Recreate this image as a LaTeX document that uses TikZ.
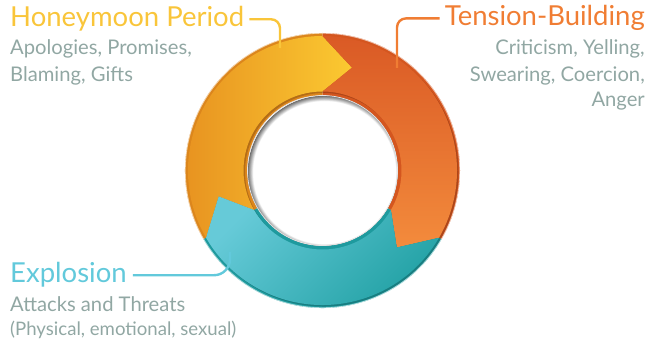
\documentclass[tikz,border=0pt]{standalone}
\usepackage{fontspec}
\setmainfont{Lato}
\definecolor{yelT}{HTML}{F9C53A}
\definecolor{oraT}{HTML}{F07D33}
\definecolor{tealT}{HTML}{62C9DB}
\definecolor{grayT}{HTML}{91A7A3}
\definecolor{yelL}{HTML}{FBC931}
\definecolor{yelD}{HTML}{E68E1F}
\definecolor{yelB}{HTML}{DC861C}
\definecolor{oraD}{HTML}{DA5A25}
\definecolor{oraL}{HTML}{F38B3C}
\definecolor{oraB}{HTML}{D4561F}
\definecolor{tealL}{HTML}{66CAD8}
\definecolor{tealD}{HTML}{20A0A3}
\definecolor{tealB}{HTML}{1E9A9E}
\begin{document}
\begin{tikzpicture}[x=1pt,y=1pt,
  title/.style={font=\fontsize{27.5}{30}\selectfont, inner sep=0pt},
  sub/.style={font=\fontsize{20.2}{24}\selectfont, text=grayT, inner sep=0pt},
  subs/.style={font=\fontsize{18.6}{22}\selectfont, text=grayT, inner sep=0pt},
  conn/.style={line width=2.4pt, rounded corners=9pt},
  arrowpath/.style 2 args={insert path={(#1:134.5) arc[start angle=#1,end angle=#2,radius=134.5] -- (#2-16:107) -- (#2:79) arc[start angle=#2,end angle=#1,radius=79] -- (#1-16:107) -- cycle}},
  sector/.style 2 args={insert path={(#1:137.5) arc[start angle=#1,end angle=#2,radius=137.5] -- (#2:75) arc[start angle=#2,end angle=#1,radius=75] -- cycle}}]
\useasboundingbox (0,0) rectangle (651,343);
\coordinate (C) at (322.5,172.5);
% ring
\begin{scope}[shift={(C)}]
  \fill[yelB, sector={210}{90}];
  \fill[oraB, sector={90}{-30}];
  \fill[tealB, sector={-30}{-150}];
  \draw[white, opacity=.6, line width=0.8pt] (0,0) circle[radius=137.2];
  % shadows
  \begin{scope}[shift={(1.5,-1.5)}]
    \fill[black, opacity=.18, arrowpath={210}{90}];
    \fill[black, opacity=.18, arrowpath={90}{-30}];
    \fill[black, opacity=.18, arrowpath={-30}{-150}];
  \end{scope}
  \shade[left color=yelD, right color=yelL, arrowpath={210}{90}];
  \shade[top color=oraD, bottom color=oraL, arrowpath={90}{-30}];
  \shade[top color=tealL, bottom color=tealD, shading angle=45, arrowpath={-30}{-150}];
\end{scope}
% hole
\begin{scope}
  \clip (C) circle[radius=75];
  \foreach \k in {0,...,14}{
    \pgfmathsetmacro\pc{60*(14-\k)/14}
    \pgfmathsetmacro\rr{77-0.4*\k}
    \fill[black!\pc] ([shift={(2.2,-2.2)}]C) circle[radius=\rr];
  }
\end{scope}
\draw[white!80!gray, line width=0.7pt] (C) circle[radius=75];
% texts
\node[title, text=yelT, anchor=base west] (hp) at (10,316) {Honeymoon Period};
\node[sub, anchor=base west] (hp1) at (10,288) {Apologies, Promises,};
\node[sub, anchor=base west] (hp2) at (10,261) {Blaming, Gifts};
\node[title, text=oraT, anchor=base east] (tb) at (645,317) {Tension-Building};
\node[sub, anchor=base east] (tb1) at (645,288) {Criticism, Yelling,};
\node[sub, anchor=base east] (tb2) at (645,261) {Swearing, Coercion,};
\node[sub, anchor=base east] (tb3) at (645,236) {Anger};
\node[title, text=tealT, anchor=base west] (ex) at (10,60) {Explosion};
\node[sub, anchor=base west] (ex1) at (10,31) {Attacks and Threats};
\node[subs, anchor=base west] (ex2) at (10,8) {(Physical, emotional, sexual)};
% connectors
\coordinate (hpe) at (280,295);
\coordinate (tbe) at (397,275);
\coordinate (exe) at (230,91);
\draw[conn, yelT] ([xshift=5pt]hp.east) -- (hpe |- hp.east) -- (hpe);
\draw[conn, oraT] ([xshift=-5pt]tb.west) -- (tbe |- tb.west) -- (tbe);
\draw[conn, tealT, rounded corners=16pt] ([xshift=6pt]ex.east) -- (exe |- ex.east) -- (exe);
\end{tikzpicture}
\end{document}
